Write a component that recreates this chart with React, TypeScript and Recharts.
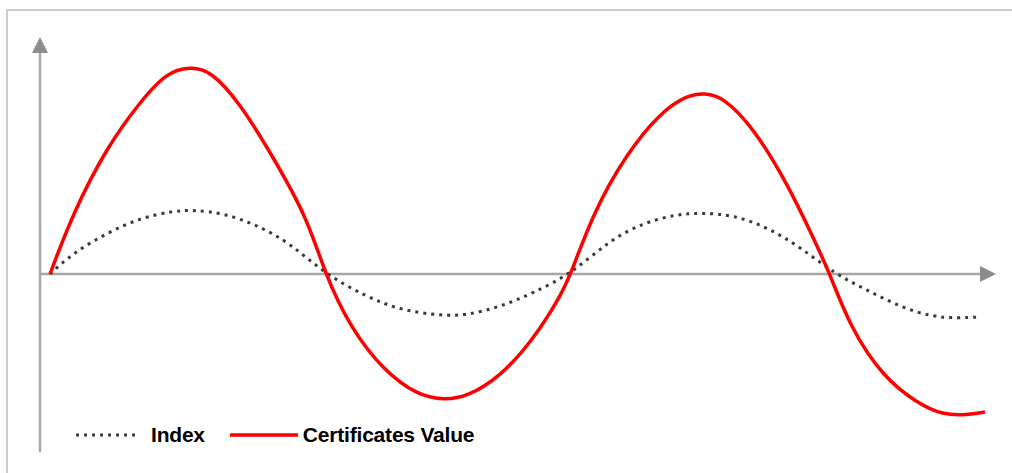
import { LineChart, Line, XAxis, YAxis, ReferenceLine } from "recharts"

// positions along the time axis (t) and values (up = positive)
const certificatesT = [10, 33, 67, 100, 127, 150, 170, 200, 233, 267, 285, 310, 343, 377, 403, 427, 460, 493, 520, 531, 553, 587, 620, 647, 665, 683, 713, 747, 773, 790, 810, 843, 877, 903, 927, 945]
const certificatesV = [0, 61, 127, 172, 202, 207, 204, 171, 117, 57, 0, -53, -96, -121, -126, -123, -103, -66, -23, 0, 61, 121, 161, 179, 181, 177, 147, 91, 37, 0, -53, -103, -129, -141, -141, -138]

const indexT = [10, 33, 67, 100, 133, 153, 183, 217, 250, 285, 327, 360, 403, 427, 460, 493, 531, 570, 603, 637, 663, 693, 727, 760, 795, 827, 860, 893, 917, 940]
const indexV = [0, 21, 41, 56, 63, 64, 61, 49, 31, 0, -23, -36, -42, -41, -33, -19, 0, 34, 51, 60, 61, 59, 47, 27, 0, -16, -33, -43, -44, -43]

const legendLabels = ["Index", "Certificates Value"]

const certificatesData = certificatesT.map((t, i) => ({ t, v: certificatesV[i] }))
const indexData = indexT.map((t, i) => ({ t, v: indexV[i] }))

const X_MAX = 956
const Y_MIN = -178
const Y_MAX = 237
const AXIS_GRAY = "#a6a6a6"

function YArrow(props: any) {
  const { x1, y1, x2, y2 } = props
  const bottom = Math.max(y1, y2)
  const top = Math.min(y1, y2)
  return (
    <g>
      <line x1={x1} y1={bottom} x2={x2} y2={top + 12} stroke={AXIS_GRAY} strokeWidth={2.5} />
      <polygon points={`${x1 - 8},${top + 16} ${x1 + 8},${top + 16} ${x1},${top}`} fill="#8c8c8c" />
    </g>
  )
}

function XArrow(props: any) {
  const { x1, y1, x2 } = props
  const right = Math.max(x1, x2)
  const left = Math.min(x1, x2)
  return (
    <g>
      <line x1={left} y1={y1} x2={right - 12} y2={y1} stroke={AXIS_GRAY} strokeWidth={2.5} />
      <polygon points={`${right - 16},${y1 - 8} ${right - 16},${y1 + 8} ${right},${y1}`} fill="#8c8c8c" />
    </g>
  )
}

export default function App() {
  return (
    <div style={{ position: "absolute", left: 0, top: 0, width: 1012, height: 473, background: "#fff", overflow: "hidden" }}>
      <div
        style={{
          position: "absolute",
          left: 6,
          top: 9,
          width: 1100,
          height: 600,
          borderTop: "2px solid #cccccc",
          borderLeft: "2px solid #cccccc"
        }}
      />
      <div style={{ position: "absolute", left: 0, top: 0 }}>
        <LineChart width={1012} height={473} margin={{ top: 37, right: 16, bottom: 21, left: 40 }}>
          <XAxis type="number" dataKey="t" domain={[0, X_MAX]} hide allowDataOverflow />
          <YAxis type="number" domain={[Y_MIN, Y_MAX]} hide allowDataOverflow />

          <ReferenceLine segment={[{ x: 0, y: Y_MIN }, { x: 0, y: Y_MAX }]} shape={YArrow} />
          <ReferenceLine segment={[{ x: 0, y: 0 }, { x: X_MAX, y: 0 }]} shape={XArrow} />

          <Line
            data={indexData}
            dataKey="v"
            type="basis"
            stroke="#3a3a3a"
            strokeWidth={3}
            strokeDasharray="3 5"
            dot={false}
            isAnimationActive={false}
          />
          <Line
            data={certificatesData}
            dataKey="v"
            type="basis"
            stroke="#ff0000"
            strokeWidth={3.5}
            dot={false}
            isAnimationActive={false}
          />
        </LineChart>
      </div>

      {/* legend */}
      <div
        style={{
          position: "absolute",
          left: 75,
          top: 423,
          display: "flex",
          alignItems: "center",
          fontFamily: "'Liberation Sans', Arial, sans-serif",
          fontWeight: "bold",
          fontSize: 21,
          color: "#000",
          whiteSpace: "nowrap"
        }}
      >
        <svg width={66} height={24} style={{ marginRight: 10 }}>
          <line x1={1} y1={12} x2={65} y2={12} stroke="#3a3a3a" strokeWidth={3} strokeDasharray="3 5" />
        </svg>
        <span style={{ marginRight: 25, letterSpacing: -0.2 }}>{legendLabels[0]}</span>
        <svg width={68} height={24} style={{ marginRight: 5 }}>
          <line x1={0} y1={12} x2={68} y2={12} stroke="#ff0000" strokeWidth={3.5} />
        </svg>
        <span style={{ letterSpacing: -0.2 }}>{legendLabels[1]}</span>
      </div>
    </div>
  )
}
